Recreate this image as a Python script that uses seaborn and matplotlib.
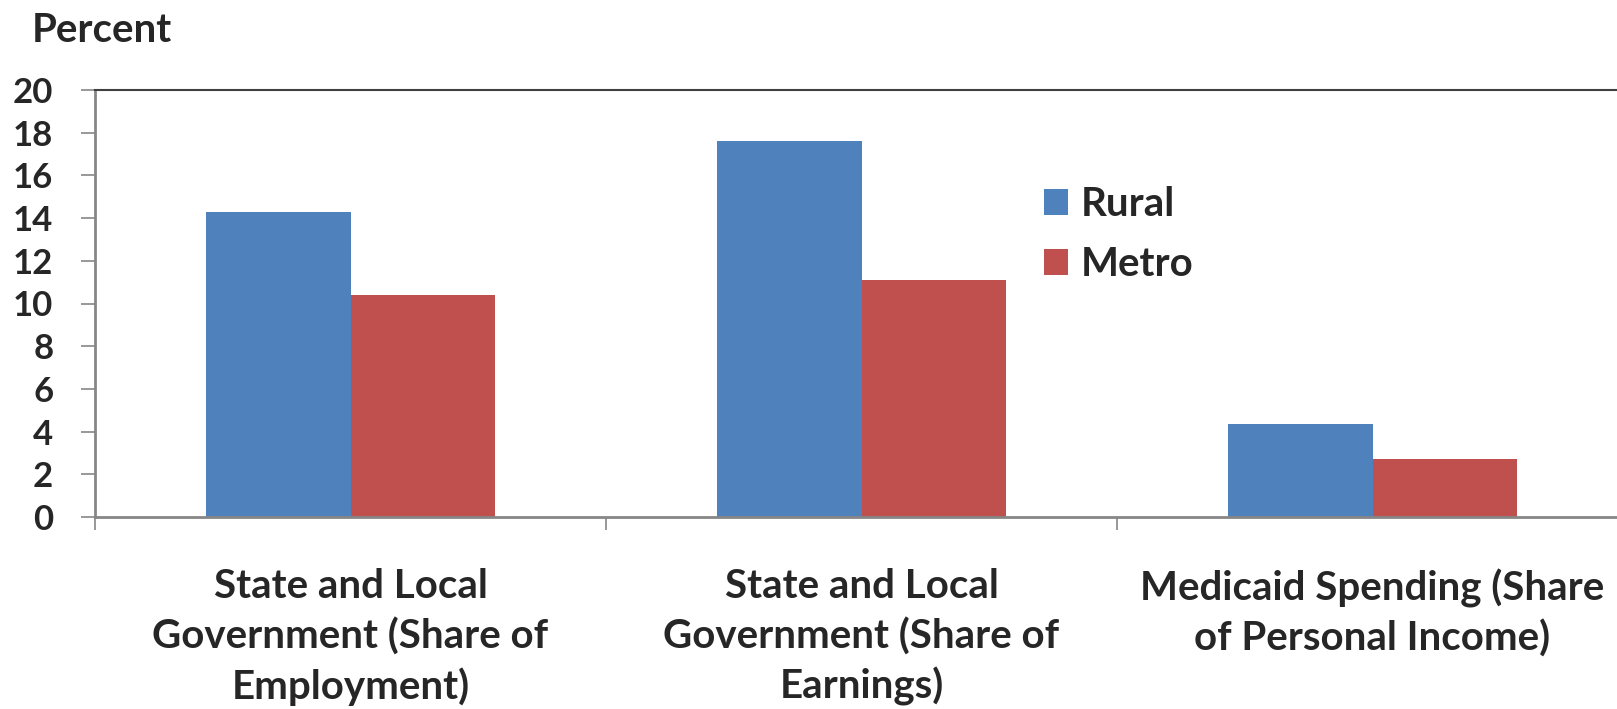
import matplotlib
matplotlib.use("Agg")
import matplotlib.pyplot as plt
import seaborn as sns
import pandas as pd

# dados do gráfico
categorias = ["State and Local\nGovernment (Share of\nEmployment)",
              "State and Local\nGovernment (Share of\nEarnings)",
              "Medicaid Spending (Share\nof Personal Income)"]
rural = [14.3, 17.6, 4.35]
metro = [10.4, 11.1, 2.7]
series = ["Rural", "Metro"]
cores = ["#4F81BD", "#C0504D"]

dados = pd.DataFrame({
    "categoria": categorias * 2,
    "serie": ["Rural"] * 3 + ["Metro"] * 3,
    "valor": rural + metro,
})

sns.set_style("white")
plt.rcParams["font.family"] = ["Lato", "DejaVu Sans"]

fig = plt.figure(figsize=(16.17, 7.09), dpi=100)
ax = fig.add_axes([95 / 1617, 1 - 517 / 709, 1533 / 1617, 427 / 709])

sns.barplot(data=dados, x="categoria", y="valor", hue="serie", hue_order=series,
            palette=cores, width=0.567, saturation=1, linewidth=0, ax=ax)

ax.set_xlim(-0.5, 2.5)
ax.set_ylim(0, 20)
ax.set_yticks(range(0, 21, 2))
ax.set_xlabel("")
ax.set_ylabel("")

# eixos
for lado in ["left", "bottom"]:
    ax.spines[lado].set_color("#868686")
    ax.spines[lado].set_linewidth(2)
ax.spines["top"].set_color("#404040")
ax.spines["top"].set_linewidth(1.5)
ax.spines["right"].set_visible(False)

ax.tick_params(axis="y", direction="out", length=10, width=1.2, color="#868686",
               labelsize=25, pad=20, left=True)
ax.tick_params(axis="x", which="major", length=0, labelsize=29, pad=37)
ax.set_xticks([-0.5, 0.5, 1.5, 2.5], minor=True)
ax.tick_params(axis="x", which="minor", direction="out", length=9, width=1.2,
               color="#868686", bottom=True)
for t in ax.get_yticklabels() + ax.get_xticklabels():
    t.set_fontweight("bold")
for t in ax.get_xticklabels():
    t.set_linespacing(1.38)

fig.text(32 / 1617, 1 - 42 / 709, "Percent", fontsize=29, fontweight="bold",
         va="baseline", ha="left")

handles, labels = ax.get_legend_handles_labels()
ax.legend(handles, labels, loc="upper left", bbox_to_anchor=(1044 / 1617, 1 - 186 / 709),
          bbox_transform=fig.transFigure, frameon=False, prop={"size": 29, "weight": "bold"},
          handlelength=0.6, handleheight=0.6, handletextpad=0.3, labelspacing=0.58,
          borderpad=0, borderaxespad=0)

plt.savefig("out.png", dpi=100)
